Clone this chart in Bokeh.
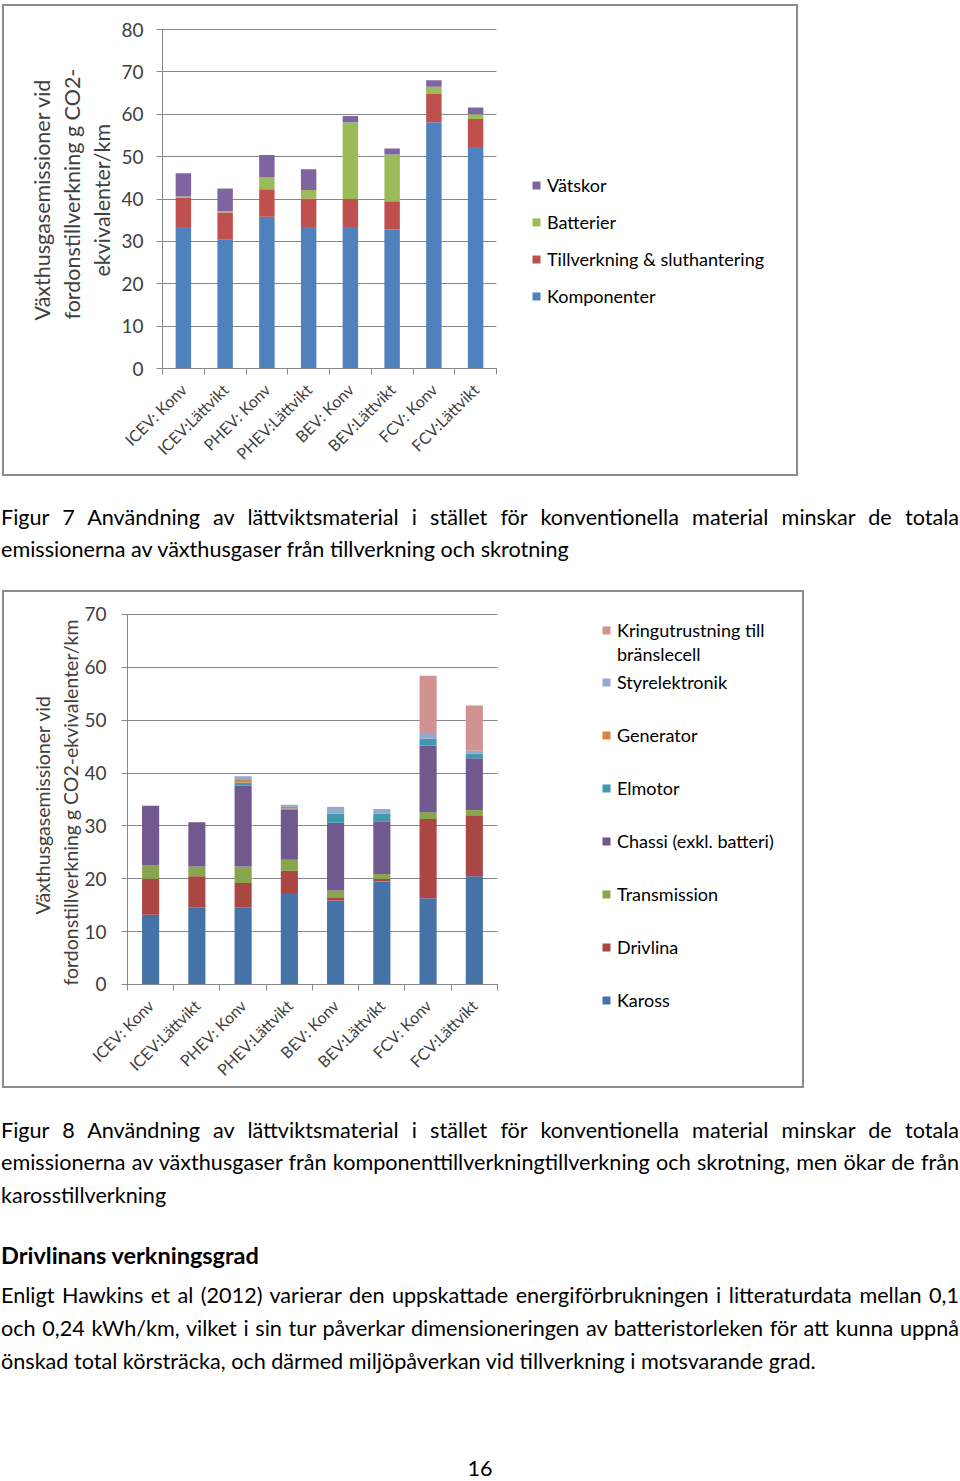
import math
from bokeh.plotting import figure
from bokeh.models import (Range1d, FixedTicker, Legend, LegendItem, Div, ColumnDataSource,
                          Spacer, Title)
from bokeh.layouts import column, row
from bokeh.embed import file_html
from bokeh.resources import INLINE

FONT = "Lato"

categories = ["ICEV: Konv", "ICEV:Lättvikt", "PHEV: Konv", "PHEV:Lättvikt",
              "BEV: Konv", "BEV:Lättvikt", "FCV: Konv", "FCV:Lättvikt"]
positions = [1, 2, 3, 4, 5, 6, 7, 8]

# Figur 7
komponenter = [33.4, 30.4, 35.8, 33.4, 33.4, 32.8, 58.1, 52.3]
tillverkning = [6.9, 6.4, 6.5, 6.7, 6.6, 6.7, 6.7, 6.6]
batterier = [0.3, 0.3, 2.9, 2.0, 18.1, 11.0, 1.7, 1.1]
vatskor = [5.5, 5.4, 5.2, 4.9, 1.5, 1.4, 1.5, 1.6]
fig7_names = ["Komponenter", "Tillverkning & sluthantering", "Batterier", "Vätskor"]
fig7_colors = ["#4F81BD", "#C0504D", "#9BBB59", "#8064A2"]
fig7_ticks = [0, 10, 20, 30, 40, 50, 60, 70, 80]
fig7_ylabel = ["Växthusgasemissioner vid", "fordonstillverkning g CO2-", "ekvivalenter/km"]

# Figur 8
kaross = [13.2, 14.6, 14.6, 17.3, 15.9, 19.5, 16.3, 20.5]
drivlina = [6.8, 5.9, 4.6, 4.2, 0.6, 0.5, 15.0, 11.5]
transmission = [2.5, 1.8, 3.1, 2.1, 1.3, 0.9, 1.3, 1.0]
chassi = [11.3, 8.4, 15.3, 9.5, 12.8, 10.0, 12.6, 9.8]
elmotor = [0.0, 0.0, 0.6, 0.2, 1.7, 1.4, 1.3, 0.9]
generator = [0.0, 0.0, 0.5, 0.3, 0.0, 0.0, 0.0, 0.0]
styrelektronik = [0.0, 0.0, 0.7, 0.4, 1.3, 0.9, 0.9, 0.5]
kringutrustning = [0.0, 0.0, 0.0, 0.0, 0.0, 0.0, 11.0, 8.6]
fig8_names = ["Kaross", "Drivlina", "Transmission", "Chassi (exkl. batteri)", "Elmotor",
              "Generator", "Styrelektronik", "Kringutrustning till"]
fig8_name_cont = "bränslecell"
fig8_colors = ["#4572A7", "#AA4643", "#89A54E", "#71588F", "#4198AF",
               "#DB843D", "#93A9CF", "#D19392"]
fig8_ticks = [0, 10, 20, 30, 40, 50, 60, 70]
fig8_ylabel = ["Växthusgasemissioner vid", "fordonstillverkning g CO2-ekvivalenter/km"]

GRAY = "#888888"
TXT = "#404040"
BOX = {"border": "2px solid #8c8c8c", "background-color": "white"}


def style_chart(p, yticks, ylabel_lines, label_size, offsets, standoff, tick_standoff):
    p.outline_line_color = None
    p.background_fill_color = "white"
    p.border_fill_color = "white"
    p.xgrid.visible = False
    g = p.ygrid[0]
    g.ticker = FixedTicker(ticks=yticks)
    g.grid_line_color = GRAY
    g.grid_line_width = 1
    g.cross_bounds = (0.5, 8.5)
    xa = p.xaxis[0]
    xa.fixed_location = 0
    xa.bounds = (0.5, 8.5)
    xa.ticker = FixedTicker(ticks=positions,
                            minor_ticks=[x - 0.5 for x in positions] + [positions[-1] + 0.5])
    xa.major_label_overrides = {x: c for x, c in zip(positions, categories)}
    xa.major_label_orientation = math.pi / 4
    xa.major_tick_line_color = None
    xa.minor_tick_line_color = GRAY
    xa.minor_tick_out = 6
    xa.minor_tick_in = 0
    xa.axis_line_color = GRAY
    xa.major_label_text_font = FONT
    xa.major_label_text_font_size = "16px"
    xa.major_label_text_color = TXT
    xa.major_label_standoff = 12
    ya = p.yaxis[0]
    ya.fixed_location = 0.5
    ya.bounds = (yticks[0], yticks[-1])
    ya.ticker = FixedTicker(ticks=yticks, minor_ticks=[])
    ya.major_tick_line_color = GRAY
    ya.major_tick_out = 6
    ya.major_tick_in = 0
    ya.minor_tick_line_color = None
    ya.axis_line_color = GRAY
    ya.major_label_text_font = FONT
    ya.major_label_text_font_size = "19px"
    ya.major_label_text_color = TXT
    ya.major_label_standoff = tick_standoff
    # axis title lines, innermost (last line) first
    for txt, off in reversed(list(zip(ylabel_lines, offsets))):
        t = Title(text=txt, align="left", vertical_align="middle", offset=off, standoff=standoff,
                  text_font=FONT, text_font_style="normal", text_font_size=label_size,
                  text_color=TXT)
        p.add_layout(t, "left")


LEG = dict(glyph_width=10, glyph_height=10, label_standoff=6, label_height=20,
           padding=0, margin=0, border_line_color=None, background_fill_alpha=0,
           label_text_font=FONT, label_text_font_size="18px", label_text_color="#000000")

# ---------- Figur 7 chart ----------
src7 = ColumnDataSource(dict(x=positions, Komponenter=komponenter,
                             Tillverkning=tillverkning, Batterier=batterier, Vatskor=vatskor))
p1 = figure(width=792, height=468, x_range=Range1d(-0.602, 15.59), y_range=Range1d(-24.07, 84.96),
            output_backend="svg", toolbar_location=None,
            min_border_left=112, min_border_right=4, min_border_top=2, min_border_bottom=4)
r1 = p1.vbar_stack(["Komponenter", "Tillverkning", "Batterier", "Vatskor"], x="x", width=0.37,
                   fill_color=fig7_colors, line_color=None, source=src7)
style_chart(p1, fig7_ticks, fig7_ylabel, "21.5px", [150, 151, 194], 2, 13)
leg1 = Legend(items=[LegendItem(label=n, renderers=[r]) for n, r in reversed(list(zip(fig7_names, r1)))],
              location=(415, 163), spacing=15, **LEG)
p1.add_layout(leg1, "center")

# ---------- Figur 8 chart ----------
src8 = ColumnDataSource(dict(x=positions, s0=kaross, s1=drivlina, s2=transmission, s3=chassi,
                             s4=elmotor, s5=generator, s6=styrelektronik, s7=kringutrustning))
p2 = figure(width=798, height=494, x_range=Range1d(-0.430, 15.01), y_range=Range1d(-18.54, 73.78),
            output_backend="svg", toolbar_location=None,
            min_border_left=80, min_border_right=4, min_border_top=2, min_border_bottom=4)
r2 = p2.vbar_stack(["s0", "s1", "s2", "s3", "s4", "s5", "s6", "s7"], x="x", width=0.37,
                   fill_color=fig8_colors, line_color=None, source=src8)
style_chart(p2, fig8_ticks, fig8_ylabel, "19.5px", [168, 97], 3, 15)
leg2a = Legend(items=[LegendItem(label=fig8_names[7], renderers=[r2[7]]),
                      LegendItem(label=fig8_name_cont, renderers=[])],
               location=(517, 417), spacing=2, **LEG)
leg2b = Legend(items=[LegendItem(label=n, renderers=[r]) for n, r in
                      reversed(list(zip(fig8_names[:7], r2[:7])))],
               location=(517, 71), spacing=31, **LEG)
p2.add_layout(leg2a, "center")
p2.add_layout(leg2b, "center")

box1 = column(p1, styles=BOX)
box2 = column(p2, styles=BOX)

# ---------- Text ----------
BASE = "font-family:Lato;font-size:21.6px;line-height:32.7px;color:#000;width:959px;padding-left:1px;"
J = "text-align:justify;text-align-last:justify;"

cap7_line1 = "Figur 7 Användning av lättviktsmaterial i stället för konventionella material minskar de totala"
cap7_line2 = "emissionerna av växthusgaser från tillverkning och skrotning"
cap8_line1 = "Figur 8 Användning av lättviktsmaterial i stället för konventionella material minskar de totala"
cap8_line2 = "emissionerna av växthusgaser från komponenttillverkningtillverkning och skrotning, men ökar de från"
cap8_line3 = "karosstillverkning"
heading = "Drivlinans verkningsgrad"
para_line1 = "Enligt Hawkins et al (2012) varierar den uppskattade energiförbrukningen i litteraturdata mellan 0,1"
para_line2 = "och 0,24 kWh/km, vilket i sin tur påverkar dimensioneringen av batteristorleken för att kunna uppnå"
para_line3 = "önskad total körsträcka, och därmed miljöpåverkan vid tillverkning i motsvarande grad."
page_no = "16"

div1 = Div(width=960, height=114, margin=0, text=(
    f'<div style="{BASE}margin-top:24.5px">'
    f'<div style="{J}">{cap7_line1}</div>'
    f'<div>{cap7_line2}</div></div>'))

div2 = Div(width=960, height=392, margin=0, text=(
    f'<div style="{BASE}margin-top:25.5px">'
    f'<div style="{J}">{cap8_line1}</div>'
    f'<div style="{J}">{cap8_line2}</div>'
    f'<div>{cap8_line3}</div>'
    f'<div style="font-weight:bold;font-size:23.5px;margin-top:27px">{heading}</div>'
    f'<div style="{J}margin-top:8px">{para_line1}</div>'
    f'<div style="{J}">{para_line2}</div>'
    f'<div>{para_line3}</div>'
    f'<div style="text-align:center;margin-top:81px;line-height:20px">{page_no}</div>'
    f'</div>'))

layout = column(Spacer(height=4, margin=0), row(Spacer(width=2, margin=0), box1), div1,
                row(Spacer(width=2, margin=0), box2), div2, spacing=0)
open("out.html", "w").write(file_html(layout, INLINE))
